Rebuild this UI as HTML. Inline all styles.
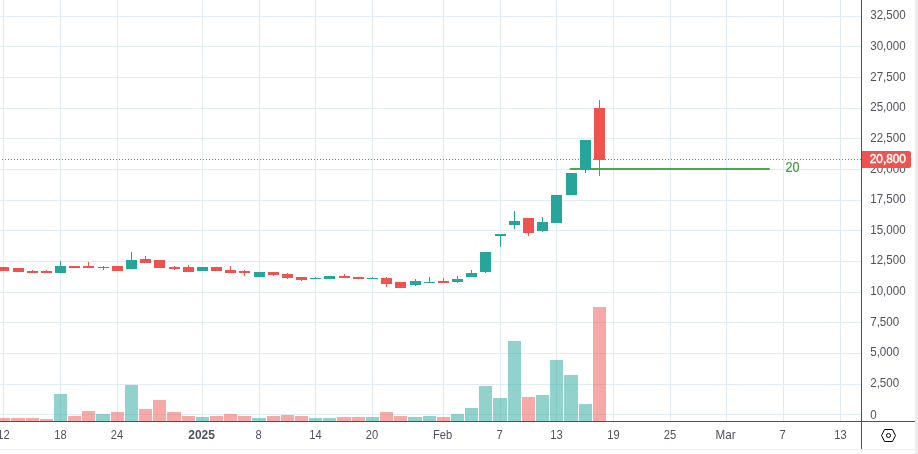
<!DOCTYPE html>
<html lang="en"><head><meta charset="utf-8"><title>Chart</title>
<style>html,body{margin:0;padding:0;background:#fff;overflow:hidden}body{width:918px;height:454px;position:relative}</style>
</head><body>
<svg width="918" height="454" viewBox="0 0 918 454" style="position:absolute;left:0;top:0;display:block">
<rect x="0" y="0" width="918" height="454" fill="#ffffff"/>
<g shape-rendering="crispEdges">
<rect x="0" y="16" width="861" height="1" fill="#e1ecf2"/>
<rect x="0" y="46" width="861" height="1" fill="#e1ecf2"/>
<rect x="0" y="77" width="861" height="1" fill="#e1ecf2"/>
<rect x="0" y="108" width="861" height="1" fill="#e1ecf2"/>
<rect x="0" y="138" width="861" height="1" fill="#e1ecf2"/>
<rect x="0" y="169" width="861" height="1" fill="#e1ecf2"/>
<rect x="0" y="200" width="861" height="1" fill="#e1ecf2"/>
<rect x="0" y="230" width="861" height="1" fill="#e1ecf2"/>
<rect x="0" y="261" width="861" height="1" fill="#e1ecf2"/>
<rect x="0" y="292" width="861" height="1" fill="#e1ecf2"/>
<rect x="0" y="322" width="861" height="1" fill="#e1ecf2"/>
<rect x="0" y="353" width="861" height="1" fill="#e1ecf2"/>
<rect x="0" y="384" width="861" height="1" fill="#e1ecf2"/>
<rect x="0" y="414" width="861" height="1" fill="#e1ecf2"/>
<rect x="3" y="0" width="1" height="421" fill="#e1ecf2"/>
<rect x="60" y="0" width="1" height="421" fill="#e1ecf2"/>
<rect x="117" y="0" width="1" height="421" fill="#e1ecf2"/>
<rect x="202" y="0" width="1" height="421" fill="#e1ecf2"/>
<rect x="259" y="0" width="1" height="421" fill="#e1ecf2"/>
<rect x="315" y="0" width="1" height="421" fill="#e1ecf2"/>
<rect x="372" y="0" width="1" height="421" fill="#e1ecf2"/>
<rect x="443" y="0" width="1" height="421" fill="#e1ecf2"/>
<rect x="500" y="0" width="1" height="421" fill="#e1ecf2"/>
<rect x="556" y="0" width="1" height="421" fill="#e1ecf2"/>
<rect x="613" y="0" width="1" height="421" fill="#e1ecf2"/>
<rect x="670" y="0" width="1" height="421" fill="#e1ecf2"/>
<rect x="726" y="0" width="1" height="421" fill="#e1ecf2"/>
<rect x="783" y="0" width="1" height="421" fill="#e1ecf2"/>
<rect x="840" y="0" width="1" height="421" fill="#e1ecf2"/>
<rect x="-3" y="418" width="13" height="3" fill="#ef5350" fill-opacity="0.5"/>
<rect x="11" y="418" width="14" height="3" fill="#ef5350" fill-opacity="0.5"/>
<rect x="26" y="418" width="13" height="3" fill="#ef5350" fill-opacity="0.5"/>
<rect x="40" y="419" width="13" height="2" fill="#ef5350" fill-opacity="0.5"/>
<rect x="54" y="394" width="13" height="27" fill="#26a69a" fill-opacity="0.5"/>
<rect x="68" y="416" width="13" height="5" fill="#ef5350" fill-opacity="0.5"/>
<rect x="82" y="411" width="13" height="10" fill="#ef5350" fill-opacity="0.5"/>
<rect x="96" y="414" width="14" height="7" fill="#26a69a" fill-opacity="0.5"/>
<rect x="111" y="412" width="13" height="9" fill="#ef5350" fill-opacity="0.5"/>
<rect x="125" y="385" width="13" height="36" fill="#26a69a" fill-opacity="0.5"/>
<rect x="139" y="409" width="13" height="12" fill="#ef5350" fill-opacity="0.5"/>
<rect x="153" y="400" width="13" height="21" fill="#ef5350" fill-opacity="0.5"/>
<rect x="167" y="412" width="14" height="9" fill="#ef5350" fill-opacity="0.5"/>
<rect x="182" y="416" width="13" height="5" fill="#ef5350" fill-opacity="0.5"/>
<rect x="196" y="417" width="13" height="4" fill="#26a69a" fill-opacity="0.5"/>
<rect x="210" y="416" width="13" height="5" fill="#ef5350" fill-opacity="0.5"/>
<rect x="224" y="414" width="13" height="7" fill="#ef5350" fill-opacity="0.5"/>
<rect x="238" y="416" width="13" height="5" fill="#ef5350" fill-opacity="0.5"/>
<rect x="252" y="418" width="14" height="3" fill="#26a69a" fill-opacity="0.5"/>
<rect x="267" y="416" width="13" height="5" fill="#ef5350" fill-opacity="0.5"/>
<rect x="281" y="415" width="13" height="6" fill="#ef5350" fill-opacity="0.5"/>
<rect x="295" y="416" width="13" height="5" fill="#ef5350" fill-opacity="0.5"/>
<rect x="309" y="418" width="13" height="3" fill="#26a69a" fill-opacity="0.5"/>
<rect x="323" y="418" width="13" height="3" fill="#26a69a" fill-opacity="0.5"/>
<rect x="337" y="417" width="14" height="4" fill="#ef5350" fill-opacity="0.5"/>
<rect x="352" y="417" width="13" height="4" fill="#ef5350" fill-opacity="0.5"/>
<rect x="366" y="417" width="13" height="4" fill="#26a69a" fill-opacity="0.5"/>
<rect x="380" y="412" width="13" height="9" fill="#ef5350" fill-opacity="0.5"/>
<rect x="394" y="416" width="13" height="5" fill="#ef5350" fill-opacity="0.5"/>
<rect x="408" y="417" width="14" height="4" fill="#26a69a" fill-opacity="0.5"/>
<rect x="423" y="416" width="13" height="5" fill="#26a69a" fill-opacity="0.5"/>
<rect x="437" y="417" width="13" height="4" fill="#ef5350" fill-opacity="0.5"/>
<rect x="451" y="414" width="13" height="7" fill="#26a69a" fill-opacity="0.5"/>
<rect x="465" y="408" width="13" height="13" fill="#26a69a" fill-opacity="0.5"/>
<rect x="479" y="386" width="13" height="35" fill="#26a69a" fill-opacity="0.5"/>
<rect x="493" y="398" width="14" height="23" fill="#26a69a" fill-opacity="0.5"/>
<rect x="508" y="341" width="13" height="80" fill="#26a69a" fill-opacity="0.5"/>
<rect x="522" y="397" width="13" height="24" fill="#ef5350" fill-opacity="0.5"/>
<rect x="536" y="395" width="13" height="26" fill="#26a69a" fill-opacity="0.5"/>
<rect x="550" y="360" width="13" height="61" fill="#26a69a" fill-opacity="0.5"/>
<rect x="564" y="375" width="14" height="46" fill="#26a69a" fill-opacity="0.5"/>
<rect x="579" y="404" width="13" height="17" fill="#26a69a" fill-opacity="0.5"/>
<rect x="593" y="307" width="13" height="114" fill="#ef5350" fill-opacity="0.5"/>
<rect x="569.5" y="168" width="200.5" height="2" rx="1" fill="#47ab49" shape-rendering="auto"/>
<rect x="-2" y="267" width="11" height="4" fill="#ef5350"/>
<rect x="13" y="268" width="11" height="4" fill="#ef5350"/>
<rect x="32" y="270" width="1" height="3" fill="#ef5350"/>
<rect x="27" y="271" width="11" height="2" fill="#ef5350"/>
<rect x="46" y="270" width="1" height="3" fill="#ef5350"/>
<rect x="41" y="271" width="11" height="2" fill="#ef5350"/>
<rect x="60" y="261" width="1" height="12" fill="#26a69a"/>
<rect x="55" y="266" width="11" height="7" fill="#26a69a"/>
<rect x="69" y="266" width="11" height="2" fill="#ef5350"/>
<rect x="88" y="262" width="1" height="6" fill="#ef5350"/>
<rect x="83" y="266" width="11" height="2" fill="#ef5350"/>
<rect x="103" y="266" width="1" height="4" fill="#26a69a"/>
<rect x="98" y="267" width="11" height="1" fill="#26a69a"/>
<rect x="112" y="266" width="11" height="5" fill="#ef5350"/>
<rect x="131" y="252" width="1" height="17" fill="#26a69a"/>
<rect x="126" y="260" width="11" height="9" fill="#26a69a"/>
<rect x="145" y="256" width="1" height="7" fill="#ef5350"/>
<rect x="140" y="259" width="11" height="4" fill="#ef5350"/>
<rect x="154" y="260" width="11" height="8" fill="#ef5350"/>
<rect x="174" y="266" width="1" height="4" fill="#ef5350"/>
<rect x="169" y="267" width="11" height="2" fill="#ef5350"/>
<rect x="188" y="265" width="1" height="7" fill="#ef5350"/>
<rect x="183" y="267" width="11" height="5" fill="#ef5350"/>
<rect x="197" y="267" width="11" height="4" fill="#26a69a"/>
<rect x="211" y="267" width="11" height="4" fill="#ef5350"/>
<rect x="230" y="266" width="1" height="7" fill="#ef5350"/>
<rect x="225" y="270" width="11" height="3" fill="#ef5350"/>
<rect x="244" y="270" width="1" height="6" fill="#ef5350"/>
<rect x="239" y="271" width="11" height="2" fill="#ef5350"/>
<rect x="254" y="272" width="11" height="5" fill="#26a69a"/>
<rect x="273" y="272" width="1" height="4" fill="#ef5350"/>
<rect x="268" y="272" width="11" height="3" fill="#ef5350"/>
<rect x="287" y="273" width="1" height="6" fill="#ef5350"/>
<rect x="282" y="274" width="11" height="4" fill="#ef5350"/>
<rect x="301" y="277" width="1" height="4" fill="#ef5350"/>
<rect x="296" y="277" width="11" height="3" fill="#ef5350"/>
<rect x="315" y="277" width="1" height="2" fill="#26a69a"/>
<rect x="310" y="278" width="11" height="1" fill="#26a69a"/>
<rect x="324" y="276" width="11" height="3" fill="#26a69a"/>
<rect x="344" y="274" width="1" height="4" fill="#ef5350"/>
<rect x="339" y="276" width="11" height="2" fill="#ef5350"/>
<rect x="353" y="277" width="11" height="2" fill="#ef5350"/>
<rect x="372" y="277" width="1" height="2" fill="#26a69a"/>
<rect x="367" y="278" width="11" height="1" fill="#26a69a"/>
<rect x="386" y="277" width="1" height="10" fill="#ef5350"/>
<rect x="381" y="278" width="11" height="6" fill="#ef5350"/>
<rect x="395" y="282" width="11" height="6" fill="#ef5350"/>
<rect x="415" y="279" width="1" height="7" fill="#26a69a"/>
<rect x="410" y="281" width="11" height="4" fill="#26a69a"/>
<rect x="429" y="277" width="1" height="6" fill="#26a69a"/>
<rect x="424" y="282" width="11" height="1" fill="#26a69a"/>
<rect x="443" y="278" width="1" height="5" fill="#ef5350"/>
<rect x="438" y="281" width="11" height="2" fill="#ef5350"/>
<rect x="457" y="276" width="1" height="7" fill="#26a69a"/>
<rect x="452" y="279" width="11" height="3" fill="#26a69a"/>
<rect x="471" y="270" width="1" height="7" fill="#26a69a"/>
<rect x="466" y="273" width="11" height="4" fill="#26a69a"/>
<rect x="485" y="252" width="1" height="21" fill="#26a69a"/>
<rect x="480" y="252" width="11" height="20" fill="#26a69a"/>
<rect x="500" y="234" width="1" height="13" fill="#26a69a"/>
<rect x="495" y="234" width="11" height="2" fill="#26a69a"/>
<rect x="514" y="211" width="1" height="18" fill="#26a69a"/>
<rect x="509" y="221" width="11" height="4" fill="#26a69a"/>
<rect x="528" y="218" width="1" height="18" fill="#ef5350"/>
<rect x="523" y="218" width="11" height="15" fill="#ef5350"/>
<rect x="542" y="217" width="1" height="15" fill="#26a69a"/>
<rect x="537" y="222" width="11" height="9" fill="#26a69a"/>
<rect x="551" y="195" width="11" height="28" fill="#26a69a"/>
<rect x="566" y="173" width="11" height="22" fill="#26a69a"/>
<rect x="585" y="140" width="1" height="33" fill="#26a69a"/>
<rect x="580" y="140" width="11" height="30" fill="#26a69a"/>
<rect x="599" y="100" width="1" height="76" fill="#ef5350"/>
<rect x="594" y="108" width="11" height="52" fill="#ef5350"/>
<line x1="2" y1="159.5" x2="861" y2="159.5" stroke="#ef5350" stroke-width="1" stroke-dasharray="1 2"/>
<rect x="0" y="421" width="915" height="1" fill="#4f525e"/>
<rect x="861" y="0" width="1" height="449" fill="#4f525e"/>
<rect x="915" y="0" width="3" height="454" fill="#ececec"/>
<rect x="0" y="449" width="915" height="1" fill="#eeeeee"/>
</g>
<text transform="translate(870.2 19) scale(0.965 1)" font-family="&quot;Liberation Sans&quot;, sans-serif" font-size="12" fill="#4f525e">32,500</text>
<text transform="translate(870.2 50) scale(0.965 1)" font-family="&quot;Liberation Sans&quot;, sans-serif" font-size="12" fill="#4f525e">30,000</text>
<text transform="translate(870.2 81) scale(0.965 1)" font-family="&quot;Liberation Sans&quot;, sans-serif" font-size="12" fill="#4f525e">27,500</text>
<text transform="translate(870.2 111) scale(0.965 1)" font-family="&quot;Liberation Sans&quot;, sans-serif" font-size="12" fill="#4f525e">25,000</text>
<text transform="translate(870.2 142) scale(0.965 1)" font-family="&quot;Liberation Sans&quot;, sans-serif" font-size="12" fill="#4f525e">22,500</text>
<text transform="translate(870.2 173) scale(0.965 1)" font-family="&quot;Liberation Sans&quot;, sans-serif" font-size="12" fill="#4f525e">20,000</text>
<text transform="translate(870.2 203) scale(0.965 1)" font-family="&quot;Liberation Sans&quot;, sans-serif" font-size="12" fill="#4f525e">17,500</text>
<text transform="translate(870.2 234) scale(0.965 1)" font-family="&quot;Liberation Sans&quot;, sans-serif" font-size="12" fill="#4f525e">15,000</text>
<text transform="translate(870.2 264) scale(0.965 1)" font-family="&quot;Liberation Sans&quot;, sans-serif" font-size="12" fill="#4f525e">12,500</text>
<text transform="translate(870.2 295) scale(0.965 1)" font-family="&quot;Liberation Sans&quot;, sans-serif" font-size="12" fill="#4f525e">10,000</text>
<text transform="translate(870.2 326) scale(0.965 1)" font-family="&quot;Liberation Sans&quot;, sans-serif" font-size="12" fill="#4f525e">7,500</text>
<text transform="translate(870.2 356) scale(0.965 1)" font-family="&quot;Liberation Sans&quot;, sans-serif" font-size="12" fill="#4f525e">5,000</text>
<text transform="translate(870.2 387) scale(0.965 1)" font-family="&quot;Liberation Sans&quot;, sans-serif" font-size="12" fill="#4f525e">2,500</text>
<text transform="translate(870.2 419) scale(0.965 1)" font-family="&quot;Liberation Sans&quot;, sans-serif" font-size="12" fill="#4f525e">0</text>
<path d="M862 151H909a2 2 0 0 1 2 2V166a2 2 0 0 1 -2 2H862Z" fill="#ef5350"/>
<text transform="translate(869.8 163) scale(0.985 1)" font-family="&quot;Liberation Sans&quot;, sans-serif" font-size="12" fill="#ffffff" stroke="#ffffff" stroke-width="0.45">20,800</text>
<text x="785.5" y="172" font-family="&quot;Liberation Sans&quot;, sans-serif" font-size="14" fill="#3f9c43" stroke="#3f9c43" stroke-width="0.2" textLength="14" lengthAdjust="spacingAndGlyphs">20</text>
<text transform="translate(3.5 439.2) scale(0.93 1.03)" text-anchor="middle" font-family="&quot;Liberation Sans&quot;, sans-serif" font-size="12" fill="#4f525e">12</text>
<text transform="translate(60.5 439.2) scale(0.93 1.03)" text-anchor="middle" font-family="&quot;Liberation Sans&quot;, sans-serif" font-size="12" fill="#4f525e">18</text>
<text transform="translate(117.0 439.2) scale(0.93 1.03)" text-anchor="middle" font-family="&quot;Liberation Sans&quot;, sans-serif" font-size="12" fill="#4f525e">24</text>
<text transform="translate(201.6 439.2) scale(1.0 1.03)" text-anchor="middle" font-family="&quot;Liberation Sans&quot;, sans-serif" font-size="12" fill="#4f525e" font-weight="bold">2025</text>
<text transform="translate(258.6 439.2) scale(0.93 1.03)" text-anchor="middle" font-family="&quot;Liberation Sans&quot;, sans-serif" font-size="12" fill="#4f525e">8</text>
<text transform="translate(315.5 439.2) scale(0.93 1.03)" text-anchor="middle" font-family="&quot;Liberation Sans&quot;, sans-serif" font-size="12" fill="#4f525e">14</text>
<text transform="translate(372.0 439.2) scale(0.93 1.03)" text-anchor="middle" font-family="&quot;Liberation Sans&quot;, sans-serif" font-size="12" fill="#4f525e">20</text>
<text transform="translate(442.6 439.2) scale(0.93 1.03)" text-anchor="middle" font-family="&quot;Liberation Sans&quot;, sans-serif" font-size="12" fill="#4f525e">Feb</text>
<text transform="translate(499.6 439.2) scale(0.93 1.03)" text-anchor="middle" font-family="&quot;Liberation Sans&quot;, sans-serif" font-size="12" fill="#4f525e">7</text>
<text transform="translate(556.5 439.2) scale(0.93 1.03)" text-anchor="middle" font-family="&quot;Liberation Sans&quot;, sans-serif" font-size="12" fill="#4f525e">13</text>
<text transform="translate(613.5 439.2) scale(0.93 1.03)" text-anchor="middle" font-family="&quot;Liberation Sans&quot;, sans-serif" font-size="12" fill="#4f525e">19</text>
<text transform="translate(670.0 439.2) scale(0.93 1.03)" text-anchor="middle" font-family="&quot;Liberation Sans&quot;, sans-serif" font-size="12" fill="#4f525e">25</text>
<text transform="translate(725.6 439.2) scale(0.97 1.03)" text-anchor="middle" font-family="&quot;Liberation Sans&quot;, sans-serif" font-size="12" fill="#4f525e">Mar</text>
<text transform="translate(782.6 439.2) scale(0.93 1.03)" text-anchor="middle" font-family="&quot;Liberation Sans&quot;, sans-serif" font-size="12" fill="#4f525e">7</text>
<text transform="translate(840.5 439.2) scale(0.93 1.03)" text-anchor="middle" font-family="&quot;Liberation Sans&quot;, sans-serif" font-size="12" fill="#4f525e">13</text>
<g fill="none" stroke="#000000" stroke-width="1"><path d="M881.5 435.5L884.6 429.5H892.4L895.5 435.5L892.4 441.5H884.6Z"/><circle cx="888.5" cy="435.5" r="2"/></g>
</svg>
</body></html>
